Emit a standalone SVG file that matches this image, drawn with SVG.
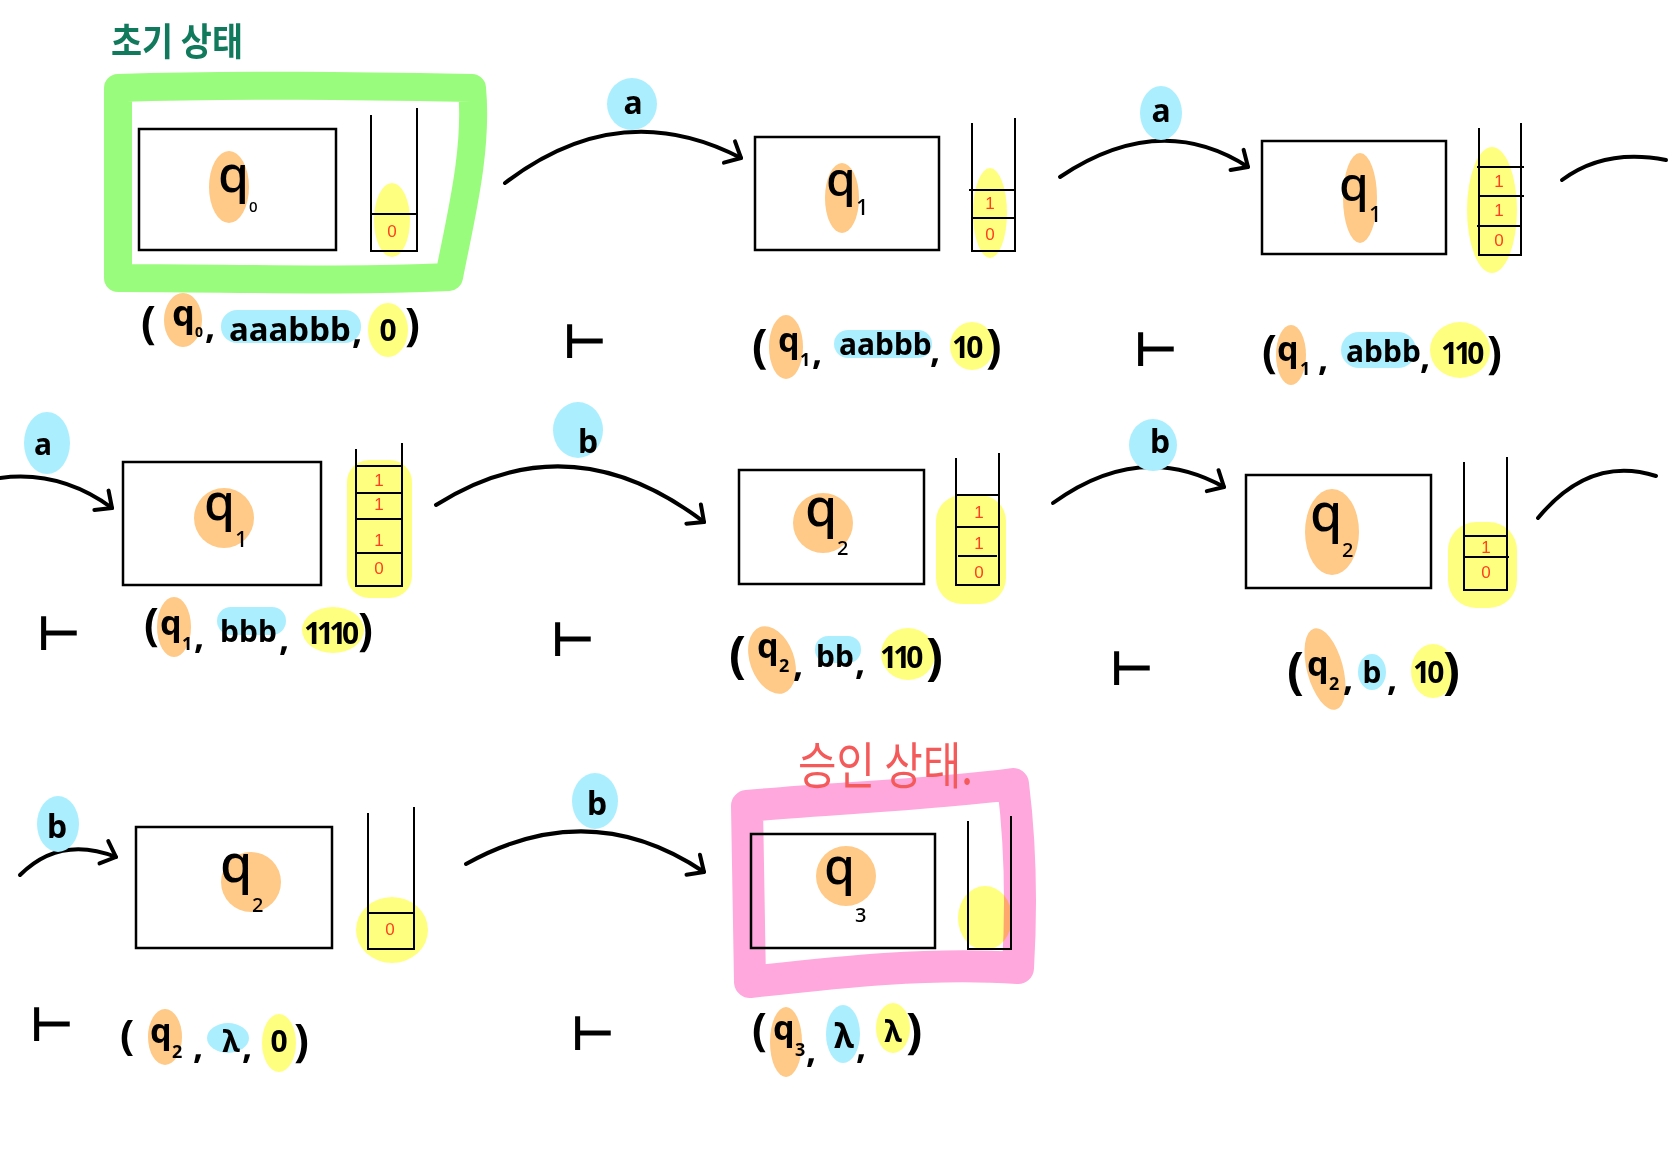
<svg xmlns="http://www.w3.org/2000/svg" width="1677" height="1157" viewBox="0 0 1677 1157">
<defs>
<style>
.o{fill:#ffc987}.b{fill:#abefff}.y{fill:#ffff7f}
.y2{fill:#ffff7f;mix-blend-mode:multiply}
.box{fill:none;stroke:#000;stroke-width:2.5}
.stk{fill:none;stroke:#000;stroke-width:2}
.arc{fill:none;stroke:#000;stroke-width:4;stroke-linecap:round;stroke-linejoin:round}
.hw{font-family:"Noto Sans","DejaVu Sans",sans-serif;font-weight:700;fill:#000}
.qs{font-family:"Noto Sans","DejaVu Sans",sans-serif;font-weight:500;fill:#000}
.dg{font-family:"Liberation Sans",sans-serif;fill:#ff4020;font-size:17px;text-anchor:middle}
.ts{font-family:"DejaVu Sans",sans-serif;font-weight:bold;font-size:48px;fill:#000}
.m{text-anchor:middle}
</style>
<marker id="chev" markerUnits="userSpaceOnUse" markerWidth="30" markerHeight="30" refX="0" refY="0" viewBox="-16 -15 20 30" orient="auto" overflow="visible">
<path d="M-13,-12 L0,0 L-13,12" fill="none" stroke="#000" stroke-width="4" stroke-linecap="round" stroke-linejoin="round"/>
</marker>
</defs>
<rect width="1677" height="1157" fill="#fff"/>

<g id="connectors">
<path class="arc" d="M505,183 Q620,95 741,158" marker-end="url(#chev)"/>
<path class="arc" d="M1060,177 Q1160,110 1248,167" marker-end="url(#chev)"/>
<path class="arc" d="M1562,180 Q1605,148 1666,160"/>
<path class="arc" d="M0,478 Q60,470 112,508" marker-end="url(#chev)"/>
<path class="arc" d="M436,505 Q570,420 704,522" marker-end="url(#chev)"/>
<path class="arc" d="M1053,503 Q1140,440 1224,487" marker-end="url(#chev)"/>
<path class="arc" d="M1538,518 Q1590,455 1656,476"/>
<path class="arc" d="M20,875 Q60,835 116,857" marker-end="url(#chev)"/>
<path class="arc" d="M466,864 Q590,795 704,872" marker-end="url(#chev)"/>
</g>

<g id="labels">
<ellipse class="b" cx="632" cy="104" rx="25" ry="26"/>
<text class="hw m" x="633" y="114" font-size="32">a</text>
<ellipse class="b" cx="1161" cy="113" rx="21" ry="27"/>
<text class="hw m" x="1161" y="122" font-size="32">a</text>
<ellipse class="b" cx="47" cy="443" rx="23" ry="31"/>
<text class="hw m" x="43" y="455" font-size="30">a</text>
<ellipse class="b" cx="578" cy="430" rx="25" ry="28"/>
<text class="hw m" x="588" y="453" font-size="32">b</text>
<ellipse class="b" cx="1153" cy="445" rx="24" ry="26"/>
<text class="hw m" x="1160" y="453" font-size="32">b</text>
<ellipse class="b" cx="58" cy="824" rx="21" ry="28"/>
<text class="hw m" x="57" y="838" font-size="32">b</text>
<ellipse class="b" cx="595" cy="801" rx="23" ry="28"/>
<text class="hw m" x="597" y="815" font-size="32">b</text>
</g>

<g id="config0">
<text x="111" y="55" font-family="'Noto Sans CJK KR',sans-serif" font-weight="bold" font-size="38" fill="#127a5c" textLength="132" lengthAdjust="spacingAndGlyphs">초기 상태</text>
<path d="M118,88 C240,84 360,86 472,88 C478,150 460,220 449,277 C340,282 230,278 118,278 Z" fill="none" stroke="#9afc7c" stroke-width="28" stroke-linejoin="round"/>
<rect class="box" x="139" y="129" width="197" height="121"/>
<ellipse class="o" cx="229" cy="187" rx="20" ry="36"/>
<text class="qs" x="218" y="192" font-size="50">q</text>
<text class="qs" x="249" y="212" font-size="15">0</text>
<ellipse class="y" cx="392" cy="220" rx="18" ry="37"/>
<path class="stk" d="M371,115 V251 H417 V108 M371,214 H417"/>
<text class="dg" x="392" y="237">0</text>
<ellipse class="o" cx="183" cy="320" rx="19" ry="27"/>
<rect class="b" x="221" y="310" width="140" height="33" rx="16"/>
<ellipse class="y" cx="388" cy="330" rx="20" ry="27"/>
<text class="hw" x="141" y="338" font-size="44">(</text>
<text class="hw" x="172" y="326" font-size="36">q</text>
<text class="hw" x="195" y="337" font-size="14">0</text>
<text class="hw" x="205" y="338" font-size="36">,</text>
<text class="hw" x="229" y="341" font-size="33">aaabbb</text>
<text class="hw" x="352" y="343" font-size="36">,</text>
<text class="hw m" x="388" y="341" font-size="30">0</text>
<text class="hw" x="405" y="340" font-size="44">)</text>
</g>

<g id="config1">
<rect class="box" x="755" y="137" width="184" height="113"/>
<ellipse class="o" cx="842" cy="198" rx="17" ry="35"/>
<text class="qs" x="826" y="196" font-size="48">q</text>
<text class="qs" x="856" y="215" font-size="22">1</text>
<ellipse class="y" cx="990" cy="213" rx="17" ry="45"/>
<path class="stk" d="M972,123 V251 H1015 V118 M969,190 H1016 M972,218 H1015"/>
<text class="dg" x="990" y="209">1</text>
<text class="dg" x="990" y="240">0</text>
<text class="ts" x="563" y="358">⊢</text>
<ellipse class="o" cx="786" cy="347" rx="17" ry="32"/>
<rect class="b" x="834" y="330" width="98" height="28" rx="14"/>
<ellipse class="y" cx="972" cy="346" rx="22" ry="24"/>
<text class="hw" x="752" y="362" font-size="46">(</text>
<text class="hw" x="778" y="352" font-size="34">q</text>
<text class="hw" x="800" y="366" font-size="18">1</text>
<text class="hw" x="812" y="364" font-size="36">,</text>
<text class="hw" x="839" y="355" font-size="30">aabbb</text>
<text class="hw" x="930" y="362" font-size="36">,</text>
<text class="hw" x="952" y="358" font-size="30" letter-spacing="-3">10</text>
<text class="hw" x="986" y="362" font-size="46">)</text>
</g>

<g id="config2">
<rect class="box" x="1262" y="141" width="184" height="113"/>
<ellipse class="o" cx="1360" cy="198" rx="17" ry="45"/>
<text class="qs" x="1339" y="201" font-size="48">q</text>
<text class="qs" x="1369" y="222" font-size="22">1</text>
<ellipse class="y" cx="1492" cy="210" rx="25" ry="63"/>
<path class="stk" d="M1479,128 V255 H1521 V123 M1477,167 H1524 M1479,196 H1524 M1477,226 H1521"/>
<text class="dg" x="1499" y="187">1</text>
<text class="dg" x="1499" y="216">1</text>
<text class="dg" x="1499" y="246">0</text>
<text class="ts" x="1134" y="366">⊢</text>
<ellipse class="o" cx="1291" cy="355" rx="15" ry="30"/>
<rect class="b" x="1341" y="332" width="75" height="36" rx="18"/>
<ellipse class="y" cx="1460" cy="350" rx="30" ry="28"/>
<text class="hw" x="1262" y="367" font-size="44">(</text>
<text class="hw" x="1277" y="361" font-size="34">q</text>
<text class="hw" x="1300" y="375" font-size="18">1</text>
<text class="hw" x="1318" y="370" font-size="36">,</text>
<text class="hw" x="1346" y="362" font-size="30">abbb</text>
<text class="hw" x="1420" y="368" font-size="36">,</text>
<text class="hw" x="1441" y="364" font-size="30" letter-spacing="-4">110</text>
<text class="hw" x="1487" y="368" font-size="44">)</text>
</g>

<g id="config3">
<rect class="box" x="123" y="462" width="198" height="123"/>
<circle class="o" cx="224" cy="518" r="30"/>
<text class="qs" x="204" y="520" font-size="50">q</text>
<text class="qs" x="235" y="547" font-size="22">1</text>
<rect class="y" x="347" y="460" width="65" height="138" rx="22"/>
<path class="stk" d="M356,449 V586 H402 V443 M356,466 H402 M356,493 H402 M356,519 H402 M356,553 H402"/>
<text class="dg" x="379" y="486">1</text>
<text class="dg" x="379" y="510">1</text>
<text class="dg" x="379" y="546">1</text>
<text class="dg" x="379" y="574">0</text>
<text class="ts" x="37" y="650">⊢</text>
<ellipse class="o" cx="174" cy="627" rx="17" ry="30"/>
<rect class="b" x="217" y="607" width="69" height="28" rx="14"/>
<ellipse class="y" cx="333" cy="630" rx="31" ry="23"/>
<text class="hw" x="144" y="640" font-size="44">(</text>
<text class="hw" x="160" y="635" font-size="34">q</text>
<text class="hw" x="182" y="650" font-size="18">1</text>
<text class="hw" x="194" y="648" font-size="36">,</text>
<text class="hw" x="220" y="642" font-size="30">bbb</text>
<text class="hw" x="279" y="650" font-size="36">,</text>
<text class="hw" x="304" y="644" font-size="30" letter-spacing="-4.5">1110</text>
<text class="hw" x="358" y="645" font-size="44">)</text>
</g>

<g id="config4">
<rect class="box" x="739" y="470" width="185" height="114"/>
<circle class="o" cx="823" cy="523" r="30"/>
<text class="qs" x="805" y="526" font-size="52">q</text>
<text class="qs" x="837" y="555" font-size="20">2</text>
<rect class="y" x="936" y="495" width="70" height="109" rx="26"/>
<path class="stk" d="M956,458 V585 H999 V453 M956,495 H999 M956,527 H999 M958,556 H997"/>
<text class="dg" x="979" y="518">1</text>
<text class="dg" x="979" y="549">1</text>
<text class="dg" x="979" y="578">0</text>
<text class="ts" x="551" y="656">⊢</text>
<ellipse class="o" cx="772" cy="660" rx="22" ry="35" transform="rotate(-20 772 660)"/>
<rect class="b" x="815" y="636" width="46" height="27" rx="13"/>
<ellipse class="y" cx="908" cy="654" rx="27" ry="26"/>
<text class="hw" x="729" y="672" font-size="50">(</text>
<text class="hw" x="757" y="658" font-size="34">q</text>
<text class="hw" x="779" y="672" font-size="18">2</text>
<text class="hw" x="793" y="676" font-size="36">,</text>
<text class="hw" x="816" y="667" font-size="30">bb</text>
<text class="hw" x="855" y="674" font-size="36">,</text>
<text class="hw" x="880" y="668" font-size="30" letter-spacing="-4">110</text>
<text class="hw" x="926" y="674" font-size="50">)</text>
</g>

<g id="config5">
<rect class="box" x="1246" y="475" width="185" height="113"/>
<ellipse class="o" cx="1332" cy="532" rx="27" ry="43"/>
<text class="qs" x="1310" y="531" font-size="52">q</text>
<text class="qs" x="1342" y="557" font-size="20">2</text>
<rect class="y" x="1448" y="522" width="69" height="86" rx="28"/>
<path class="stk" d="M1464,462 V590 H1507 V457 M1464,536 H1507 M1464,557 H1509"/>
<text class="dg" x="1486" y="553">1</text>
<text class="dg" x="1486" y="578">0</text>
<text class="ts" x="1110" y="685">⊢</text>
<ellipse class="o" cx="1325" cy="669" rx="18" ry="42" transform="rotate(-15 1325 669)"/>
<ellipse class="b" cx="1372" cy="672" rx="14" ry="18"/>
<ellipse class="y" cx="1433" cy="671" rx="22" ry="27"/>
<text class="hw" x="1287" y="688" font-size="50">(</text>
<text class="hw" x="1307" y="676" font-size="34">q</text>
<text class="hw" x="1329" y="690" font-size="18">2</text>
<text class="hw" x="1343" y="690" font-size="36">,</text>
<text class="hw m" x="1372" y="683" font-size="30">b</text>
<text class="hw" x="1387" y="690" font-size="36">,</text>
<text class="hw" x="1413" y="683" font-size="30" letter-spacing="-3">10</text>
<text class="hw" x="1443" y="688" font-size="50">)</text>
</g>

<g id="config6">
<rect class="box" x="136" y="827" width="196" height="121"/>
<circle class="o" cx="251" cy="882" r="30"/>
<text class="qs" x="220" y="882" font-size="52">q</text>
<text class="qs" x="252" y="912" font-size="20">2</text>
<ellipse class="y" cx="392" cy="930" rx="36" ry="33"/>
<path class="stk" d="M368,813 V949 H414 V807 M368,913 H414"/>
<text class="dg" x="390" y="935">0</text>
<text class="ts" x="30" y="1041">⊢</text>
<ellipse class="o" cx="165" cy="1037" rx="17" ry="28"/>
<ellipse class="b" cx="228" cy="1038" rx="21" ry="15"/>
<ellipse class="y" cx="279" cy="1043" rx="17" ry="29"/>
<text class="hw" x="120" y="1050" font-size="42">(</text>
<text class="hw" x="150" y="1043" font-size="34">q</text>
<text class="hw" x="172" y="1058" font-size="18">2</text>
<text class="hw" x="193" y="1058" font-size="36">,</text>
<text class="hw m" x="231" y="1052" font-size="30">λ</text>
<text class="hw" x="242" y="1058" font-size="36">,</text>
<text class="hw m" x="279" y="1052" font-size="30">0</text>
<text class="hw" x="294" y="1056" font-size="44">)</text>
</g>

<g id="config7">
<path d="M747,806 C830,798 930,795 1013,784 C1020,840 1022,900 1018,968 C930,962 840,972 750,982 Z" fill="none" stroke="#ffa8dd" stroke-width="32" stroke-linejoin="round"/>
<text x="798" y="784" font-family="'Noto Sans CJK KR',sans-serif" font-size="50" fill="#f45a5a" textLength="175" lengthAdjust="spacingAndGlyphs">승인 상태.</text>
<rect class="box" x="751" y="834" width="184" height="114"/>
<circle class="o" cx="846" cy="876" r="30"/>
<text class="qs" x="824" y="884" font-size="50">q</text>
<text class="qs" x="855" y="922" font-size="20">3</text>
<ellipse class="y2" cx="985" cy="918" rx="27" ry="32"/>
<path class="stk" d="M968,821 V949 H1011 V816"/>
<text class="ts" x="571" y="1050">⊢</text>
<ellipse class="o" cx="786" cy="1042" rx="16" ry="35"/>
<ellipse class="b" cx="843" cy="1034" rx="17" ry="29"/>
<ellipse class="y" cx="893" cy="1028" rx="17" ry="25"/>
<text class="hw" x="752" y="1045" font-size="44">(</text>
<text class="hw" x="773" y="1040" font-size="34">q</text>
<text class="hw" x="795" y="1056" font-size="18">3</text>
<text class="hw" x="806" y="1062" font-size="36">,</text>
<text class="hw m" x="844" y="1048" font-size="34">λ</text>
<text class="hw" x="856" y="1058" font-size="36">,</text>
<text class="hw m" x="893" y="1042" font-size="30">λ</text>
<text class="hw" x="906" y="1048" font-size="48">)</text>
</g>
</svg>
